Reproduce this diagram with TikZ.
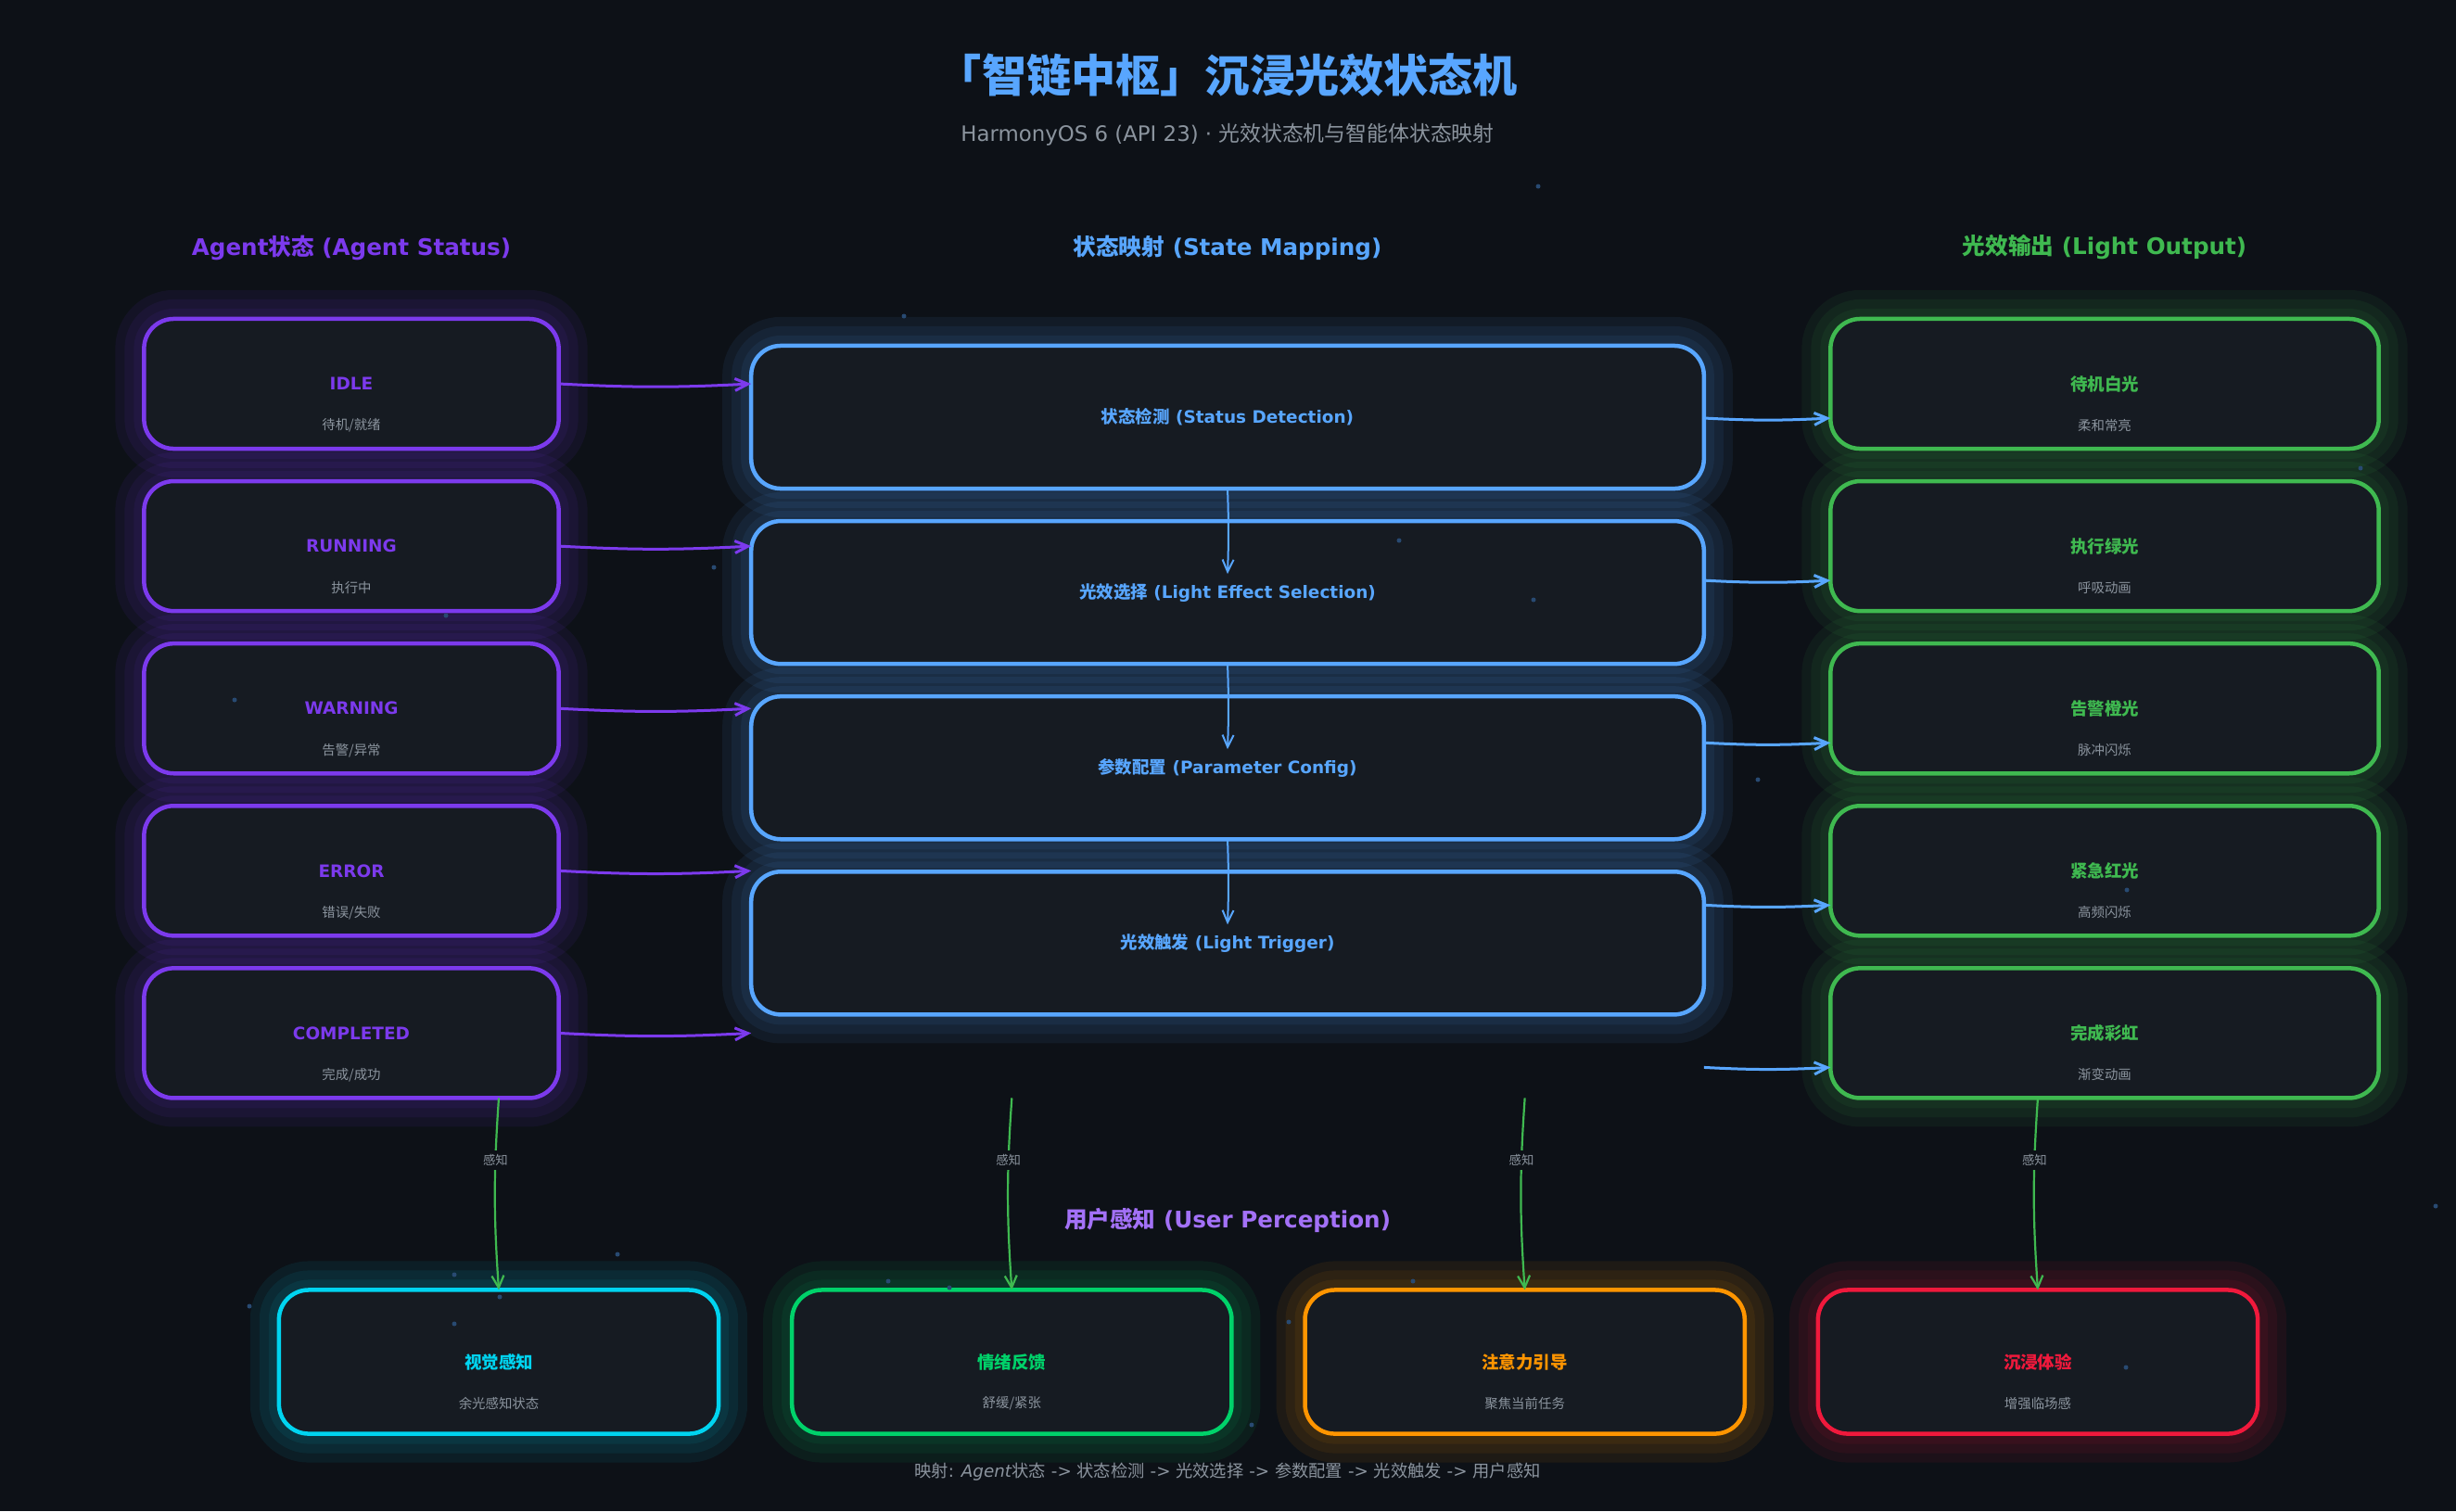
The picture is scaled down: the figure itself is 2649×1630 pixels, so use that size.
\documentclass[tikz,border=0pt]{standalone}
\usepackage{fontspec}
\setmainfont{DejaVu Sans}
\newfontfamily\cjk{Noto Sans CJK SC}
\usepackage{tikz}
\usetikzlibrary{arrows.meta,positioning,calc}

\definecolor{pagebg}{HTML}{0D1117}
\definecolor{boxbg}{HTML}{161B22}
\definecolor{agentc}{HTML}{7C3AED}
\definecolor{mapc}{HTML}{58A6FF}
\definecolor{lightc}{HTML}{3FB950}
\definecolor{userc}{HTML}{A371F7}
\definecolor{mutedc}{HTML}{8B949E}
\definecolor{visc}{HTML}{00D4F0}
\definecolor{emoc}{HTML}{00D26A}
\definecolor{focc}{HTML}{FF9500}
\definecolor{immc}{HTML}{F0193C}
\definecolor{dotc}{HTML}{284A72}

\tikzset{
  glowbox/.style={draw=#1, text=#1, fill=boxbg, rounded corners=3.2mm, line width=0.45mm, outer sep=0pt, align=center,
    preaction={draw=#1, draw opacity=0.07, line width=6.2mm},
    preaction={draw=#1, draw opacity=0.07, line width=4.2mm},
    preaction={draw=#1, draw opacity=0.07, line width=2.2mm}},
  agentbox/.style={glowbox=agentc, minimum width=44.7mm, minimum height=14mm, font=\bfseries\fontsize{5.25}{6.3}\selectfont},
  mapbox/.style={glowbox=mapc, minimum width=102.7mm, minimum height=15.4mm, font=\bfseries\fontsize{5.25}{6.3}\selectfont},
  lightbox/.style={glowbox=lightc, minimum width=59.1mm, minimum height=14mm, font=\cjk\bfseries\fontsize{5.25}{6.3}\selectfont},
  userbox/.style={glowbox=#1, minimum width=47.4mm, minimum height=15.5mm, font=\cjk\bfseries\fontsize{5.25}{6.3}\selectfont},
  subnote/.style={text=mutedc, font=\cjk\fontsize{4.1}{5}\selectfont},
  colhead/.style={font=\bfseries\fontsize{7}{8.4}\selectfont},
  agentarrow/.style={draw=agentc, line width=0.3mm, -{Straight Barb[length=1.4mm,width=1.3mm]}},
  lightarrow/.style={draw=mapc, line width=0.3mm, -{Straight Barb[length=1.4mm,width=1.3mm]}},
  steparrow/.style={draw=mapc, line width=0.2mm, -{Straight Barb[length=1.3mm,width=1.2mm]}},
  sensearrow/.style={draw=lightc, line width=0.22mm, -{Straight Barb[length=1.3mm,width=1.3mm]}},
  senselabel/.style={fill=pagebg, text=mutedc, font=\cjk\fontsize{3.8}{4.5}\selectfont, inner sep=0.4mm, pos=0.31},
}

\begin{document}
\begin{tikzpicture}[x=0.01cm, y=-0.01cm, node distance=3.5mm and 7.9mm]
  \fill[pagebg] (0,0) rectangle (2649,1630);
  \useasboundingbox (0,0) rectangle (2649,1630);

  % Title
  \node[text=mapc, font=\cjk\bfseries\fontsize{13.7}{16}\selectfont] (title) at (1324,81) {「智链中枢」沉浸光效状态机};
  \node[text=mutedc, font=\fontsize{6.5}{7.8}\selectfont] (subtitle) at (1324,145) {HarmonyOS 6 (API 23) · {\cjk 光效状态机与智能体状态映射}};

  % Column heads
  \node[colhead, text=agentc] (agenthead) at (379,267) {Agent{\cjk 状态} (Agent Status)};
  \node[colhead, text=mapc] (maphead) at (1324,267) {{\cjk 状态映射} (State Mapping)};
  \node[colhead, text=lightc] (lighthead) at (2270,267) {{\cjk 光效输出} (Light Output)};
  \node[colhead, text=userc] (userhead) at (1324,1316) {{\cjk 用户感知} (User Perception)};

  % Agent status
  \node[agentbox] (idle) at (379,414) {IDLE};
  \node[agentbox, below=of idle] (run) {RUNNING};
  \node[agentbox, below=of run] (warn) {WARNING};
  \node[agentbox, below=of warn] (err) {ERROR};
  \node[agentbox, below=of err] (done) {COMPLETED};
  \node[subnote] (idle-s) at ([yshift=-4.5mm]idle.center) {待机/就绪};
  \node[subnote] (run-s) at ([yshift=-4.5mm]run.center) {执行中};
  \node[subnote] (warn-s) at ([yshift=-4.5mm]warn.center) {告警/异常};
  \node[subnote] (err-s) at ([yshift=-4.5mm]err.center) {错误/失败};
  \node[subnote] (done-s) at ([yshift=-4.5mm]done.center) {完成/成功};

  % State mapping
  \node[mapbox] (det) at (1324,450) {{\cjk 状态检测} (Status Detection)};
  \node[mapbox, below=of det] (sel) {{\cjk 光效选择} (Light Effect Selection)};
  \node[mapbox, below=of sel] (cfg) {{\cjk 参数配置} (Parameter Config)};
  \node[mapbox, below=of cfg] (trig) {{\cjk 光效触发} (Light Trigger)};

  % Light output
  \node[lightbox] (wlight) at (2270,414) {待机白光};
  \node[lightbox, below=of wlight] (glight) {执行绿光};
  \node[lightbox, below=of glight] (olight) {告警橙光};
  \node[lightbox, below=of olight] (rlight) {紧急红光};
  \node[lightbox, below=of rlight] (rainbow) {完成彩虹};
  \node[subnote] (wlight-s) at ([yshift=-4.5mm]wlight.center) {柔和常亮};
  \node[subnote] (glight-s) at ([yshift=-4.5mm]glight.center) {呼吸动画};
  \node[subnote] (olight-s) at ([yshift=-4.5mm]olight.center) {脉冲闪烁};
  \node[subnote] (rlight-s) at ([yshift=-4.5mm]rlight.center) {高频闪烁};
  \node[subnote] (rainbow-s) at ([yshift=-4.5mm]rainbow.center) {渐变动画};

  % User perception
  \node[userbox=visc] (vis) at (538,1469) {视觉感知};
  \node[userbox=emoc, right=of vis] (emo) {情绪反馈};
  \node[userbox=focc, right=of emo] (foc) {注意力引导};
  \node[userbox=immc, right=of foc] (imm) {沉浸体验};
  \node[subnote] (vis-s) at ([yshift=-4.5mm]vis.center) {余光感知状态};
  \node[subnote] (emo-s) at ([yshift=-4.5mm]emo.center) {舒缓/紧张};
  \node[subnote] (foc-s) at ([yshift=-4.5mm]foc.center) {聚焦当前任务};
  \node[subnote] (imm-s) at ([yshift=-4.5mm]imm.center) {增强临场感};

  % Agent -> mapping
  \draw[agentarrow] (idle.east) to[bend right=3] (idle.east -| det.west);
  \draw[agentarrow] (run.east) to[bend right=3] (run.east -| det.west);
  \draw[agentarrow] (warn.east) to[bend right=3] (warn.east -| det.west);
  \draw[agentarrow] (err.east) to[bend right=3] (err.east -| det.west);
  \draw[agentarrow] (done.east) to[bend right=3] (done.east -| det.west);

  % mapping chain
  \draw[steparrow] (det.south) to[bend left=2] ($(sel.north)+(0,57)$);
  \draw[steparrow] (sel.south) to[bend left=2] ($(cfg.north)+(0,57)$);
  \draw[steparrow] (cfg.south) to[bend left=2] ($(trig.north)+(0,57)$);

  % mapping -> light output
  \draw[lightarrow] ($(det.east |- wlight.west)+(0,37)$) to[bend right=3] ($(wlight.west)+(0,37)$);
  \draw[lightarrow] ($(det.east |- glight.west)+(0,37)$) to[bend right=3] ($(glight.west)+(0,37)$);
  \draw[lightarrow] ($(det.east |- olight.west)+(0,37)$) to[bend right=3] ($(olight.west)+(0,37)$);
  \draw[lightarrow] ($(det.east |- rlight.west)+(0,37)$) to[bend right=3] ($(rlight.west)+(0,37)$);
  \draw[lightarrow] ($(det.east |- rainbow.west)+(0,37)$) to[bend right=3] ($(rainbow.west)+(0,37)$);

  % perception
  \draw[sensearrow] (vis.north |- done.south) to[bend right=4] node[senselabel] (sense1) {感知} (vis.north);
  \draw[sensearrow] (emo.north |- done.south) to[bend right=4] node[senselabel] (sense2) {感知} (emo.north);
  \draw[sensearrow] (foc.north |- done.south) to[bend right=4] node[senselabel] (sense3) {感知} (foc.north);
  \draw[sensearrow] (imm.north |- rainbow.south) to[bend right=4] node[senselabel] (sense4) {感知} (imm.north);

  % Footer
  \node[text=mutedc, font=\fontsize{5.2}{6.2}\selectfont] (footer) at (1324,1588) {{\cjk 映射}: \textit{Agent}{\cjk 状态} -> {\cjk 状态检测} -> {\cjk 光效选择} -> {\cjk 参数配置} -> {\cjk 光效触发} -> {\cjk 用户感知}};

  % particles
  \foreach \dx/\dy in {1659/201, 975/341, 1509/583, 1654/647, 770/612, 481/664, 253/755, 1896/841, 2546/505, 2627/1301, 666/1353, 269/1409, 490/1375, 958/1382, 1024/1389, 539/1399, 490/1428, 1524/1382, 1390/1426, 1350/1537, 2293/1475, 2294/960}
    \fill[dotc] (\dx,\dy) circle[radius=0.25mm];
\end{tikzpicture}
\end{document}
